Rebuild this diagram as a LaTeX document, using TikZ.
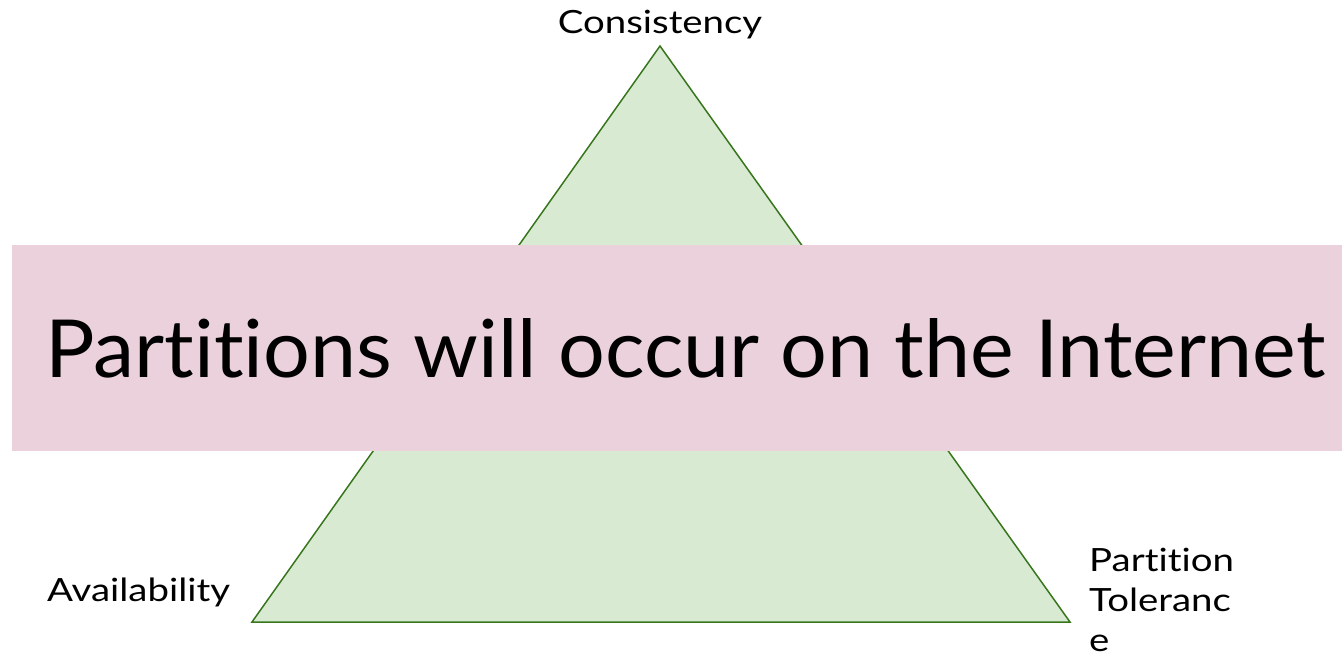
\documentclass[tikz,border=0pt]{standalone}
\usepackage{fontspec}
\setmainfont{Lato}[Ligatures={NoCommon,NoRequired}]
\definecolor{trifill}{HTML}{D9EAD3}
\definecolor{tridraw}{HTML}{38761D}
\definecolor{bandfill}{HTML}{EAD1DC}
\newcommand{\wide}[1]{\scalebox{1.2}[1]{#1}}
\begin{document}
\begin{tikzpicture}[x=1pt,y=-1pt,
  lbl/.style={inner sep=0pt,font=\fontsize{32}{40}\selectfont},
  band/.style={fill=bandfill,draw=none}]
\useasboundingbox (0,0) rectangle (1342,661);
\coordinate (apex) at (660,46);
\coordinate (bl) at (252,622);
\coordinate (br) at (1070,622);
\filldraw[fill=trifill,draw=tridraw,line width=1.5pt,line join=miter] (apex) -- (bl) -- (br) -- cycle;
\node[band,minimum width=1330pt,minimum height=206pt,inner sep=0pt,anchor=north west] (bandbox) at (12,245) {};
\node[inner sep=0pt,anchor=base west] (title) at (45,377) {\resizebox{1280pt}{59pt}{\fontsize{80}{80}\selectfont Partitions will occur on the Internet}};
\node[lbl,anchor=base] (cons) at (660,34) {\wide{Consistency}};
\node[lbl,anchor=base west] (avail) at (47,601) {\wide{Availability}};
\node[lbl,anchor=base west,align=left] (pt) at (1089,651) {\wide{Partition}\\\wide{Toleranc}\\\wide{e}};
\end{tikzpicture}
\end{document}
